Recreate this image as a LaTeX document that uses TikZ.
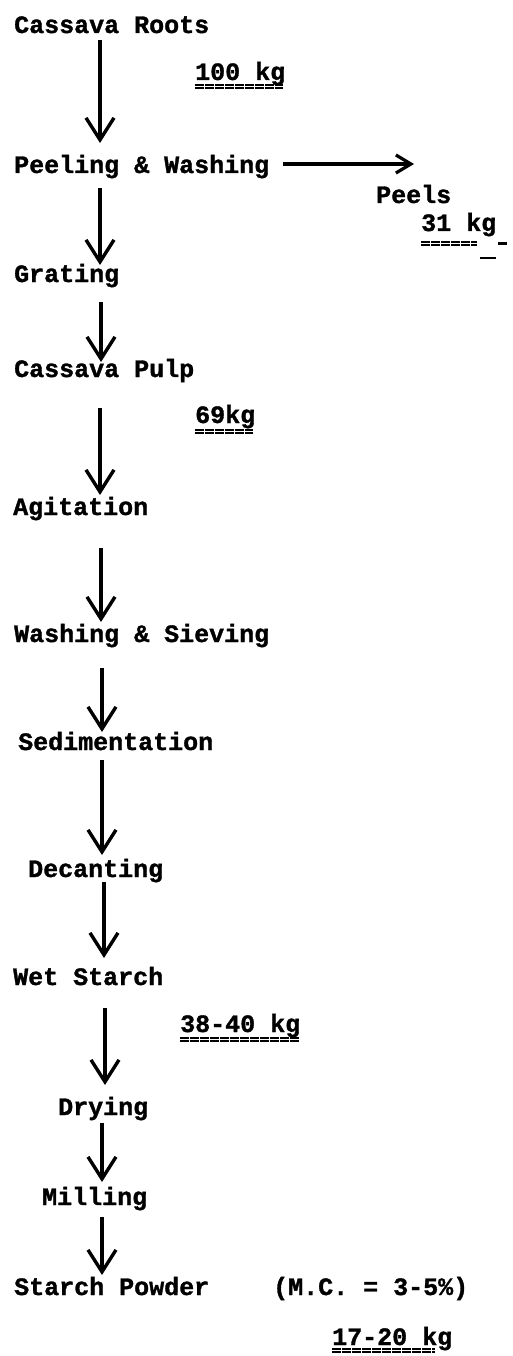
\documentclass[tikz,border=0pt]{standalone}
\usepackage{fontspec}
\newfontfamily\tw{Liberation Mono}[BoldFont={* Bold},BoldFeatures={FakeBold=1.3}]
\usetikzlibrary{arrows.meta,calc}
\begin{document}
\begin{tikzpicture}[x=1pt,y=-1pt,
  lab/.style={anchor=base west,inner sep=0pt,font=\fontsize{25}{30}\selectfont\tw\bfseries},
  arr/.style={line width=3.4pt,-{Straight Barb[length=22pt,width=28pt,line width=3.4pt]}},
  harr/.style={line width=3.2pt,-{Straight Barb[length=15pt,width=18pt,line width=3.2pt]}},
  ul/.style={line width=2.2pt,dash pattern=on 9pt off 1pt}]
\useasboundingbox (0,0) rectangle (512,1356);
% nodes
\node[lab] (cr)    at (14,33)    {Cassava Roots};
\node[lab] (kg100) at (195,80)   {100 kg};
\node[lab] (pw)    at (14,173)   {Peeling \& Washing};
\node[lab] (peels) at (376,203)  {Peels};
\node[lab] (kg31)  at (421,231)  {31 kg};
\node[lab] (gr)    at (14,282)   {Grating};
\node[lab] (cp)    at (14,377)   {Cassava Pulp};
\node[lab] (kg69)  at (195,423)  {69kg};
\node[lab] (ag)    at (13,515)   {Agitation};
\node[lab] (ws)    at (14,642)   {Washing \& Sieving};
\node[lab] (se)    at (18,750)   {Sedimentation};
\node[lab] (de)    at (28,877)   {Decanting};
\node[lab] (wet)   at (13,985)   {Wet Starch};
\node[lab] (kg38)  at (180,1032) {38-40 kg};
\node[lab] (dr)    at (58,1115)  {Drying};
\node[lab] (mi)    at (42,1205)  {Milling};
\node[lab] (sp)    at (14,1295)  {Starch Powder};
\node[lab] (mc)    at (273,1295) {(M.C. = 3-5\%)};
\node[lab] (kg17)  at (332,1345) {17-20 kg};
% vertical connectors
\draw[arr] ($(cr.base west)+(86,7)$)  -- ($(pw.base west)+(86,-30)$);
\draw[arr] ($(pw.base west)+(86,15)$) -- ($(gr.base west)+(86,-17)$);
\draw[arr] ($(gr.base west)+(87,20)$) -- ($(cp.base west)+(87,-15)$);
\draw[arr] ($(cp.base west)+(86,31)$) -- ($(ag.base west)+(87,-20)$);
\draw[arr] ($(ag.base west)+(88,33)$) -- ($(ws.base west)+(87,-20)$);
\draw[arr] ($(ws.base west)+(88,26)$) -- ($(se.base west)+(84,-18)$);
\draw[arr] ($(se.base west)+(84,10)$) -- ($(de.base west)+(74,-22)$);
\draw[arr] ($(de.base west)+(76,5)$)  -- ($(wet.base west)+(91,-27)$);
\draw[arr] ($(wet.base west)+(92,23)$) -- ($(dr.base west)+(47,-30)$);
\draw[arr] ($(dr.base west)+(44,8)$)  -- ($(mi.base west)+(60,-23)$);
\draw[arr] ($(mi.base west)+(60,12)$) -- ($(sp.base west)+(88,-20)$);
% side connector
\draw[harr] ($(pw.base east)+(14,-9)$) -- ($(peels.base west)+(38,-39)$);
% underlines
\foreach \n/\a/\b/\d in {kg100/0/88/5, kg69/0/58/7, kg38/0/120/6, kg17/0/103/4}{
  \draw[ul] ($(\n.base west)+(\a,\d)$) -- ($(\n.base west)+(\b,\d)$);
  \draw[ul] ($(\n.base west)+(\a,\d+3)$) -- ($(\n.base west)+(\b,\d+3)$);
}
\draw[ul] ($(kg31.base west)+(0,11)$) -- ($(kg31.base west)+(56,11)$);
\draw[ul] ($(kg31.base west)+(0,14)$) -- ($(kg31.base west)+(56,14)$);
\draw[line width=3pt] ($(kg31.base west)+(77,12.5)$) -- ($(kg31.base west)+(86,12.5)$);
\draw[line width=2pt] ($(kg31.base west)+(59,27)$) -- ($(kg31.base west)+(75,27)$);
\end{tikzpicture}
\end{document}
